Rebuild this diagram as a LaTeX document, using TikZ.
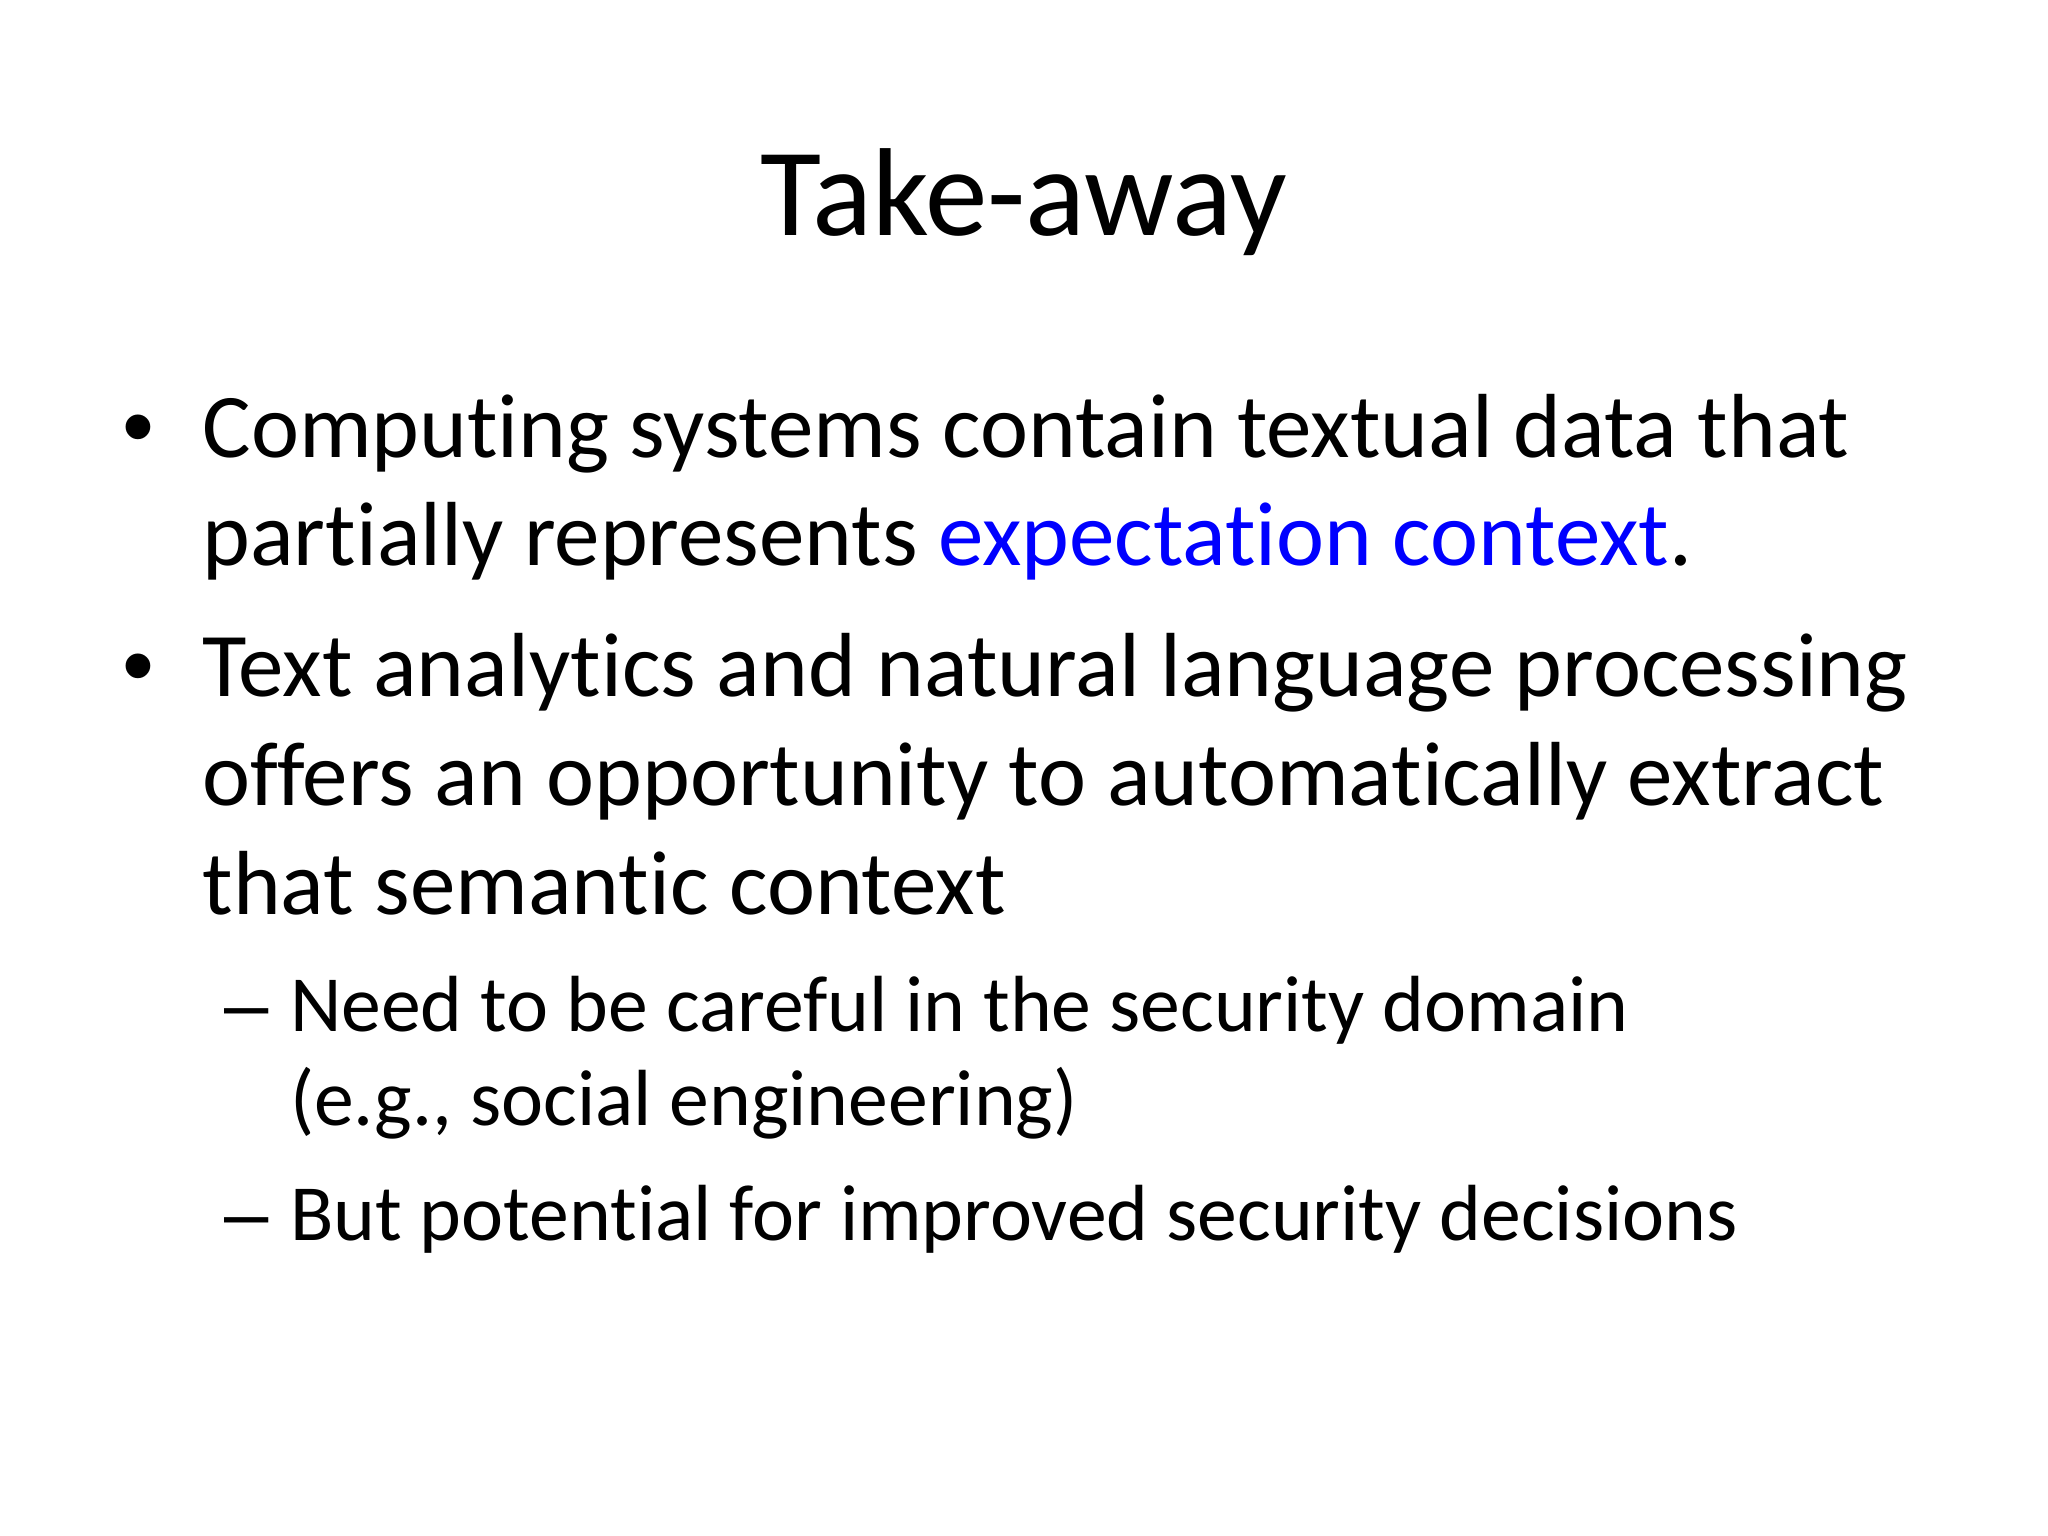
\documentclass[tikz,border=0pt]{standalone}
\usepackage{fontspec}
\setmainfont{Carlito}[Ligatures=CommonOff]
\newfontfamily\markfont{Liberation Sans}
\definecolor{linkblue}{RGB}{0,0,255}
\tikzset{
  line/.style={anchor=base west, inner sep=0pt, outer sep=0pt, font=\fontsize{32}{38.4}\selectfont},
  subline/.style={anchor=base west, inner sep=0pt, outer sep=0pt, font=\fontsize{28}{33.6}\selectfont},
  bulletmark/.style={anchor=base west, inner sep=0pt, outer sep=0pt, font=\markfont\fontsize{32}{38.4}\selectfont},
  dashmark/.style={anchor=base west, inner sep=0pt, outer sep=0pt, font=\markfont\fontsize{28}{33.6}\selectfont},
  titletext/.style={anchor=base, inner sep=0pt, font=\fontsize{44}{52.8}\selectfont}
}
\begin{document}
\begin{tikzpicture}[x=1pt,y=1pt]
\useasboundingbox (0,0) rectangle (720,-540);
\fill[white] (0,0) rectangle (720,-540);
\node[titletext] (title) at (360,-82.7) {Take-away};
\node[bulletmark] (b1) at (43,-160.7) {•};
\node[line] (l1) at (71.2,-160.7) {Computing systems contain textual data that};
\node[line] (l2) at (71.2,-198.8) {partially represents \textcolor{linkblue}{expectation context}.};
\node[bulletmark] (b2) at (43,-244.8) {•};
\node[line] (l3) at (71.2,-244.8) {Text analytics and natural language processing};
\node[line] (l4) at (71.2,-283.3) {offers an opportunity to automatically extract};
\node[line] (l5) at (71.2,-321.4) {that semantic context};
\node[dashmark] (d1) at (79,-362.8) {–};
\node[subline] (s1) at (102,-362.8) {Need to be careful in the security domain};
\node[subline] (s2) at (102,-395.8) {(e.g., social engineering)};
\node[dashmark] (d2) at (79,-436.2) {–};
\node[subline] (s3) at (102,-436.2) {But potential for improved security decisions};
\end{tikzpicture}
\end{document}
